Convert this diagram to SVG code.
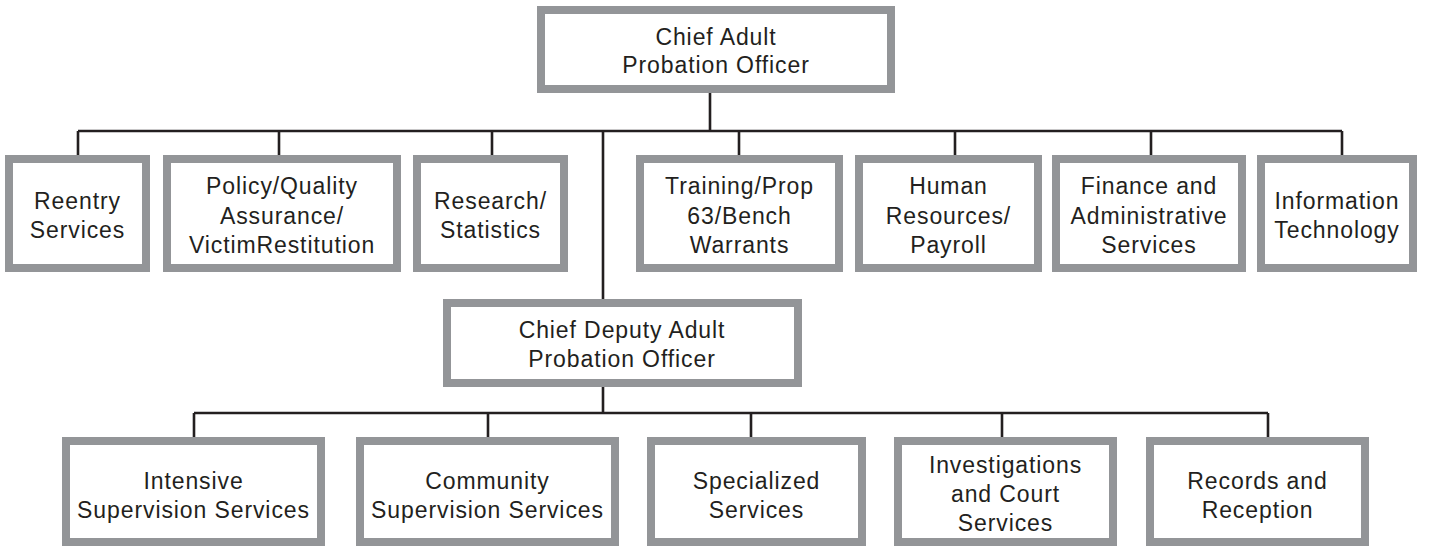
<svg xmlns="http://www.w3.org/2000/svg" width="1429" height="546" viewBox="0 0 1429 546">
<style>
.box{fill:#ffffff;stroke:#939598;stroke-width:8}
.t{font-family:"Liberation Sans",Arial,sans-serif;font-size:23px;fill:#231f20;text-anchor:middle;letter-spacing:0.9px}
.c{fill:none;stroke:#231f20;stroke-width:2.6}
</style>
<rect width="1429" height="546" fill="#ffffff"/>
<g id="connectors" class="c">
<path d="M710,93V131M78,131H1342M78,131V155M279,131V155M492,131V155M739,131V155M955,131V155M1151,131V155M1342,131V155M603,131V299"/>
<path d="M603,387V413M194,413H1268M194,413V437M488,413V437M751,413V437M1002,413V437M1268,413V437"/>
</g>
<g id="chief">
<rect class="box" x="541" y="10" width="350" height="79"/>
<text class="t" x="716" y="45">Chief Adult</text>
<text class="t" x="716" y="73">Probation Officer</text>
</g>
<g id="reentry">
<rect class="box" x="9" y="159" width="137" height="109"/>
<text class="t" x="77.5" y="209">Reentry</text>
<text class="t" x="77.5" y="238">Services</text>
</g>
<g id="policy">
<rect class="box" x="167" y="159" width="230" height="109"/>
<text class="t" x="282" y="194">Policy/Quality</text>
<text class="t" x="282" y="223.5">Assurance/</text>
<text class="t" x="282" y="253">VictimRestitution</text>
</g>
<g id="research">
<rect class="box" x="417" y="159" width="147" height="109"/>
<text class="t" x="490.5" y="209">Research/</text>
<text class="t" x="490.5" y="238">Statistics</text>
</g>
<g id="training">
<rect class="box" x="640" y="159" width="199" height="109"/>
<text class="t" x="739.5" y="194">Training/Prop</text>
<text class="t" x="739.5" y="223.5">63/Bench</text>
<text class="t" x="739.5" y="253">Warrants</text>
</g>
<g id="hr">
<rect class="box" x="859" y="159" width="179" height="109"/>
<text class="t" x="948.5" y="194">Human</text>
<text class="t" x="948.5" y="223.5">Resources/</text>
<text class="t" x="948.5" y="253">Payroll</text>
</g>
<g id="finance">
<rect class="box" x="1056" y="159" width="186" height="109"/>
<text class="t" x="1149" y="194">Finance and</text>
<text class="t" x="1149" y="223.5">Administrative</text>
<text class="t" x="1149" y="253">Services</text>
</g>
<g id="it">
<rect class="box" x="1261" y="159" width="152" height="109"/>
<text class="t" x="1337" y="209">Information</text>
<text class="t" x="1337" y="238">Technology</text>
</g>
<g id="deputy">
<rect class="box" x="447" y="303" width="351" height="80"/>
<text class="t" x="622" y="338">Chief Deputy Adult</text>
<text class="t" x="622" y="367">Probation Officer</text>
</g>
<g id="intensive">
<rect class="box" x="66" y="441" width="255" height="101"/>
<text class="t" x="193.5" y="489">Intensive</text>
<text class="t" x="193.5" y="518">Supervision Services</text>
</g>
<g id="community">
<rect class="box" x="360" y="441" width="255" height="101"/>
<text class="t" x="487.5" y="489">Community</text>
<text class="t" x="487.5" y="518">Supervision Services</text>
</g>
<g id="specialized">
<rect class="box" x="651" y="441" width="211" height="101"/>
<text class="t" x="756.5" y="489">Specialized</text>
<text class="t" x="756.5" y="518">Services</text>
</g>
<g id="investigations">
<rect class="box" x="898" y="441" width="215" height="101"/>
<text class="t" x="1005.5" y="473">Investigations</text>
<text class="t" x="1005.5" y="502">and Court</text>
<text class="t" x="1005.5" y="531">Services</text>
</g>
<g id="records">
<rect class="box" x="1150" y="441" width="215" height="101"/>
<text class="t" x="1257.5" y="489">Records and</text>
<text class="t" x="1257.5" y="518">Reception</text>
</g>
</svg>
